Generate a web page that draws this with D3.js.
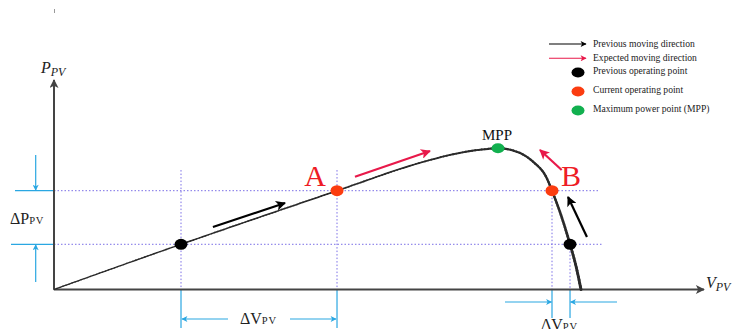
<!DOCTYPE html>
<html>
<head>
<meta charset="utf-8">
<script src="https://cdn.jsdelivr.net/npm/d3@7"></script>
<style>
  html, body { margin: 0; padding: 0; background: #fff; }
  svg { display: block; }
  text { font-family: "Liberation Serif", "DejaVu Serif", serif; }
</style>
</head>
<body>
<svg id="chart" width="734" height="329"></svg>
<script>
// P-V characteristic of the PV array (voltage and power in % of the axis span)
const curveV = [0, 19.66, 31.89, 43.81, 47.83, 53.05, 58.20, 63.31, 66.98, 68.73, 71.63, 74.15, 76.27, 77.09, 78.48, 79.88, 80.80, 81.58];
const curveP = [0, 21.58, 34.6, 47.16, 51.46, 57.04, 61.81, 65.49, 67.06, 67.40, 65.78, 61.0, 53.22, 47.16, 35.56, 21.58, 11.22, 0];

// Operating points
const prevV = [19.66, 79.88];      // previous operating points (black)
const prevP = [21.58, 21.58];
const currV = [43.81, 77.09];      // current operating points A and B (orange)
const currP = [47.16, 47.16];
const currLabels = ["A", "B"];
const mppV = [68.73];              // maximum power point (green)
const mppP = [67.40];

// Legend entries
const legendArrows = ["Previous moving direction", "Expected moving direction"];
const legendDots = ["Previous operating point", "Current operating point", "Maximum power point (MPP)"];

// Direction arrows [V0, P0, V1, P1]
const prevMoves = [[24.6, 29.8, 35.76, 41.3], [82.5, 25.06, 79.57, 44.15]];
const expectedMoves = [[46.59, 53.84, 58.20, 66.11], [78.59, 57.04, 75.23, 66.59]];

const colors = {
  axis: "#444",
  curve: "#2a2a2a",
  prev: "#000",
  curr: "#fb3c10",
  mpp: "#12b04f",
  expected: "#e8194a",
  label: "#ee1c25",
  guide: "#7a6ee6",
  dim: "#2aa7e2"
};

const svg = d3.select("#chart");
const x = d3.scaleLinear().domain([0, 100]).range([54, 700]);
const y = d3.scaleLinear().domain([0, 100]).range([289.5, 80]);

// Arrowhead markers
const defs = svg.append("defs");
function marker(id, color, w, h) {
  defs.append("marker")
    .attr("id", id).attr("viewBox", "0 0 10 10")
    .attr("refX", 9).attr("refY", 5)
    .attr("markerWidth", w).attr("markerHeight", h)
    .attr("markerUnits", "userSpaceOnUse")
    .attr("orient", "auto")
    .append("path").attr("d", "M0,0 L10,5 L0,10 L2.5,5 Z").attr("fill", color);
}
marker("hAxis", colors.axis, 14, 9);
marker("hPrev", colors.prev, 13, 10);
marker("hExp", colors.expected, 13, 10);
marker("hDim", colors.dim, 8, 6);
marker("hLegK", "#000", 8, 6);
marker("hLegR", colors.expected, 8, 6);

// Dotted guide lines
const guides = svg.append("g").attr("stroke", colors.guide).attr("stroke-width", 1)
  .attr("stroke-dasharray", "1.5,2").attr("fill", "none");
guides.append("line").attr("x1", x(0)).attr("x2", x(84.5)).attr("y1", y(currP[0])).attr("y2", y(currP[0]));
guides.append("line").attr("x1", x(0)).attr("x2", x(85)).attr("y1", y(prevP[0])).attr("y2", y(prevP[0]));
guides.append("line").attr("x1", x(prevV[0])).attr("x2", x(prevV[0])).attr("y1", y(57)).attr("y2", y(0));
guides.append("line").attr("x1", x(currV[0])).attr("x2", x(currV[0])).attr("y1", y(57)).attr("y2", y(0));
guides.append("line").attr("x1", x(currV[1])).attr("x2", x(currV[1])).attr("y1", y(currP[1])).attr("y2", y(0));
guides.append("line").attr("x1", x(prevV[1])).attr("x2", x(prevV[1])).attr("y1", y(prevP[1])).attr("y2", y(0));

// Dimension lines (ΔP and ΔV)
const dim = svg.append("g").attr("stroke", colors.dim).attr("stroke-width", 1.2).attr("fill", "none");
dim.append("line").attr("x1", 15).attr("x2", x(0)).attr("y1", y(currP[0])).attr("y2", y(currP[0]));
dim.append("line").attr("x1", 11).attr("x2", x(0)).attr("y1", y(prevP[0])).attr("y2", y(prevP[0]));
dim.append("line").attr("x1", 35.7).attr("x2", 35.7).attr("y1", 155).attr("y2", y(currP[0]) - 0.5).attr("marker-end", "url(#hDim)");
dim.append("line").attr("x1", 35.7).attr("x2", 35.7).attr("y1", 282).attr("y2", y(prevP[0]) + 0.5).attr("marker-end", "url(#hDim)");

[prevV[0], currV[0]].forEach(v => {
  dim.append("line").attr("x1", x(v)).attr("x2", x(v)).attr("y1", y(0)).attr("y2", 328);
});
[currV[1], prevV[1]].forEach(v => {
  dim.append("line").attr("x1", x(v)).attr("x2", x(v)).attr("y1", y(0)).attr("y2", 318);
});
dim.append("line").attr("x1", 228).attr("x2", x(prevV[0]) + 1).attr("y1", 319).attr("y2", 319).attr("marker-end", "url(#hDim)");
dim.append("line").attr("x1", 290).attr("x2", x(currV[0]) - 1).attr("y1", 319).attr("y2", 319).attr("marker-end", "url(#hDim)");
dim.append("line").attr("x1", 505).attr("x2", x(currV[1]) - 0.5).attr("y1", 302).attr("y2", 302).attr("marker-end", "url(#hDim)");
dim.append("line").attr("x1", 617).attr("x2", x(prevV[1]) + 0.5).attr("y1", 302).attr("y2", 302).attr("marker-end", "url(#hDim)");

// Axes
svg.append("line").attr("x1", x(0)).attr("y1", y(0)).attr("x2", x(0)).attr("y2", 80)
  .attr("stroke", colors.axis).attr("stroke-width", 2).attr("marker-end", "url(#hAxis)");
svg.append("line").attr("x1", x(0)).attr("y1", y(0)).attr("x2", 704).attr("y2", y(0))
  .attr("stroke", colors.axis).attr("stroke-width", 2).attr("marker-end", "url(#hAxis)");

// P-V curve, drawn in short segments that thicken towards the open-circuit end
const curveData = curveV.map((v, i) => [x(v), y(curveP[i])]);
const lineGen = d3.line().curve(d3.curveMonotoneX);
const tmp = svg.append("path").attr("d", lineGen(curveData)).attr("fill", "none").attr("stroke", "none");
const node = tmp.node();
const total = node.getTotalLength();
const nSeg = 200;
const widthAt = d3.scaleLinear().domain([0, 0.6, 1]).range([1.3, 1.7, 2.9]);
const segG = svg.append("g").attr("stroke", colors.curve).attr("fill", "none").attr("stroke-linecap", "round");
for (let i = 0; i < nSeg; i++) {
  const p0 = node.getPointAtLength(total * i / nSeg);
  const p1 = node.getPointAtLength(total * (i + 1) / nSeg);
  segG.append("line").attr("x1", p0.x).attr("y1", p0.y).attr("x2", p1.x).attr("y2", p1.y)
    .attr("stroke-width", widthAt((i + 0.5) / nSeg));
}
tmp.remove();

// Direction arrows
prevMoves.forEach(m => {
  svg.append("line").attr("x1", x(m[0])).attr("y1", y(m[1])).attr("x2", x(m[2])).attr("y2", y(m[3]))
    .attr("stroke", colors.prev).attr("stroke-width", 2.2).attr("marker-end", "url(#hPrev)");
});
expectedMoves.forEach(m => {
  svg.append("line").attr("x1", x(m[0])).attr("y1", y(m[1])).attr("x2", x(m[2])).attr("y2", y(m[3]))
    .attr("stroke", colors.expected).attr("stroke-width", 2.2).attr("marker-end", "url(#hExp)");
});

// Operating points
svg.selectAll(".prev").data(prevV).join("ellipse")
  .attr("cx", d => x(d)).attr("cy", (d, i) => y(prevP[i])).attr("rx", 6.5).attr("ry", 5.5).attr("fill", colors.prev);
svg.selectAll(".curr").data(currV).join("ellipse")
  .attr("cx", d => x(d)).attr("cy", (d, i) => y(currP[i])).attr("rx", 6.5).attr("ry", 5.5).attr("fill", colors.curr);
svg.selectAll(".mpp").data(mppV).join("ellipse")
  .attr("cx", d => x(d)).attr("cy", (d, i) => y(mppP[i])).attr("rx", 6.5).attr("ry", 5).attr("fill", colors.mpp);

// Point labels
svg.append("text").attr("x", x(mppV[0]) - 1).attr("y", y(mppP[0]) - 8).attr("text-anchor", "middle")
  .attr("font-size", 15).attr("fill", "#111").text("MPP");
svg.append("text").attr("x", x(currV[0]) - 11).attr("y", y(currP[0]) - 5).attr("text-anchor", "end")
  .attr("font-size", 30).attr("fill", colors.label).text(currLabels[0]);
svg.append("text").attr("x", x(currV[1]) + 9).attr("y", y(currP[1]) - 5).attr("text-anchor", "start")
  .attr("font-size", 30).attr("fill", colors.label).text(currLabels[1]);

// Axis titles
const pt = svg.append("text").attr("x", 41).attr("y", 73).attr("font-style", "italic").attr("font-size", 16).attr("fill", "#222");
pt.append("tspan").text("P");
pt.append("tspan").attr("font-size", 12).attr("dy", 3).text("PV");
const vt = svg.append("text").attr("x", 706).attr("y", 288).attr("font-style", "italic").attr("font-size", 16).attr("fill", "#222");
vt.append("tspan").text("V");
vt.append("tspan").attr("font-size", 12).attr("dy", 3).text("PV");

// Δ labels
function deltaLabel(tx, ty, letter) {
  const t = svg.append("text").attr("x", tx).attr("y", ty).attr("fill", "#222").attr("font-size", 16);
  t.append("tspan").text("Δ" + letter);
  t.append("tspan").attr("font-size", 10.5).attr("letter-spacing", 0.8).text("PV");
}
deltaLabel(10, 224, "P");
deltaLabel(240, 323.5, "V");
deltaLabel(541, 329.5, "V");

// Legend
const lg = svg.append("g");
legendArrows.forEach((t, i) => {
  const ly = 44 + i * 14.3;
  lg.append("line").attr("x1", 549).attr("x2", 586).attr("y1", ly).attr("y2", ly)
    .attr("stroke", i === 0 ? "#000" : colors.expected).attr("stroke-width", 1.1)
    .attr("marker-end", i === 0 ? "url(#hLegK)" : "url(#hLegR)");
  lg.append("text").attr("x", 593).attr("y", ly + 3).attr("font-size", 9.6).attr("fill", "#222").text(t);
});
const dotColors = [colors.prev, colors.curr, colors.mpp];
legendDots.forEach((t, i) => {
  const ly = 72.5 + i * 19;
  lg.append("ellipse").attr("cx", 578).attr("cy", ly).attr("rx", 6.5).attr("ry", 5).attr("fill", dotColors[i]);
  lg.append("text").attr("x", 593).attr("y", ly + 1).attr("font-size", 9.6).attr("fill", "#222").text(t);
});

// Small mark at the top left
svg.append("line").attr("x1", 54.5).attr("x2", 54.5).attr("y1", 9).attr("y2", 13).attr("stroke", "#999").attr("stroke-width", 1);
</script>
</body>
</html>
